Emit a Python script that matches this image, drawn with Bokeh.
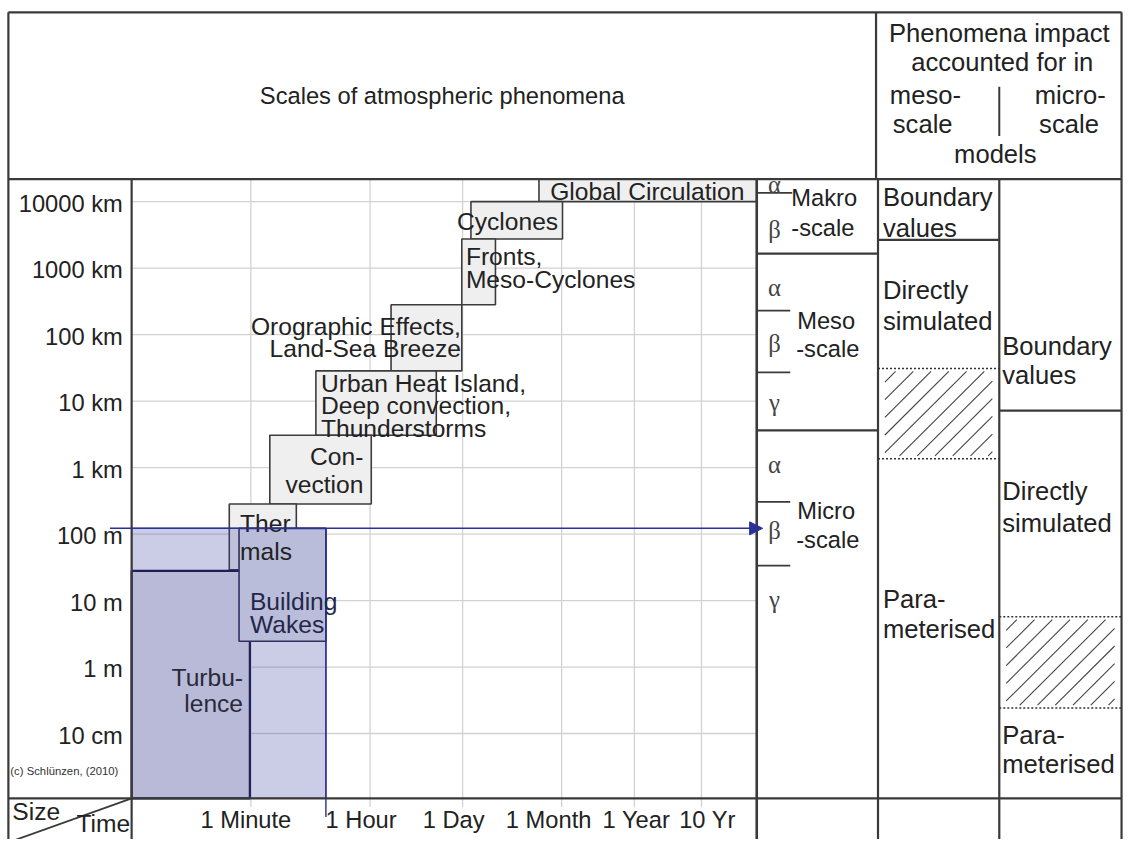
import numpy as np
from bokeh.plotting import figure
from bokeh.models import Range1d, ColumnDataSource, Arrow, NormalHead
from bokeh.core.properties import value
from bokeh.embed import file_html
from bokeh.resources import INLINE

# ------------------------------------------------------------------ data
size_ticks_m = [1e7, 1e6, 1e5, 1e4, 1e3, 1e2, 1e1, 1e0, 1e-1]
size_tick_labels = ["10000 km", "1000 km", "100 km", "10 km", "1 km",
                    "100 m", "10 m", "1 m", "10 cm"]
time_ticks_s = [60, 3600, 86400, 2.592e6, 3.156e7, 3.156e8]
time_tick_labels = ["1 Minute", "1 Hour", "1 Day", "1 Month", "1 Year", "10 Yr"]
time_label_dx = [-5, -9, -9, -13, 2, 6]

# phenomena (time span in s, length span in m)
phen_names = ["Global Circulation", "Cyclones", "Fronts, Meso-Cyclones",
              "Orographic Effects, Land-Sea Breeze",
              "Urban Heat Island, Deep convection, Thunderstorms",
              "Convection", "Thermals"]
phen_t0 = [1.19e6, 1.15e5, 8.4e4, 7.4e3, 5.6e2, 1.15e2, 28.6]
phen_t1 = [2.1e9, 2.67e6, 2.67e5, 8.4e4, 3.5e4, 3.75e3, 2.86e2]
phen_l0 = [1.0e7, 2.75e6, 2.82e5, 2.85e4, 3.07e3, 2.84e2, 29.0]
phen_l1 = [2.18e7, 1.0e7, 2.75e6, 2.82e5, 2.85e4, 3.07e3, 2.84e2]

micro_names = ["Turbulence", "Building Wakes"]
micro_t0 = [1.0, 40.0]
micro_t1 = [58.0, 790.0]
micro_l0 = [0.0106, 2.44]
micro_l1 = [28.0, 122.0]

# domain of the microscale model (highlighted)
domain_t = [1.0, 790.0]
domain_l = [0.0106, 122.0]

# ------------------------------------------------------------------ layout
PXD_X, PXD_Y = 68.0, 67.75          # reference pixels per decade
X_1S, Y_1E7 = 133.0, 205.0           # reference pixel of 1 s / 1e7 m
REF_W, REF_H = 1140, 855
W, H = 1124, 839
FS = W / REF_W                       # font scale


def gx(px):
    return 10 ** ((px - X_1S) / PXD_X)


def gy(py):
    return 10 ** (7 + (Y_1E7 - py) / PXD_Y)


p = figure(width=W, height=H, x_axis_type="log", y_axis_type="log",
           x_range=Range1d(gx(0), gx(REF_W)),
           y_range=Range1d(gy(REF_H), gy(0)),
           output_backend="svg", toolbar_location=None, min_border=0,
           x_axis_location=None, y_axis_location=None,
           outline_line_color=None, background_fill_color="white")
p.xgrid.visible = False
p.ygrid.visible = False

navy = "#2b2f98"
dark = "#3a3a3a"
txt = "#222222"
FONT = "Liberation Sans"


def fsz(s):
    return value(f"{s * FS:.1f}px")


t_main0, t_main1 = 1.0, gx(767)
l_main0, l_main1 = gy(813), gy(182)

# grid
p.segment(x0=time_ticks_s, y0=[gy(822)] * len(time_ticks_s),
          x1=time_ticks_s, y1=[l_main1] * len(time_ticks_s),
          line_color="#d2d2d2", line_width=1.3)
p.segment(x0=[t_main0] * len(size_ticks_m), y0=size_ticks_m,
          x1=[t_main1] * len(size_ticks_m), y1=size_ticks_m,
          line_color="#d2d2d2", line_width=1.3)

# phenomena boxes
p.quad(left=phen_t0, right=phen_t1, bottom=phen_l0, top=phen_l1,
       fill_color="#efefef", line_color="#3c3c3c", line_width=1.6)

# microscale model domain
p.quad(left=[domain_t[0]], right=[domain_t[1]], bottom=[domain_l[0]], top=[domain_l[1]],
       fill_color="#3c46a0", fill_alpha=0.27, line_color=navy, line_width=1.2)
p.quad(left=micro_t0, right=micro_t1, bottom=micro_l0, top=micro_l1,
       fill_color=["#b8bad7", "#babdd9"], line_color=["#1c1f5a", "#2e3160"],
       line_width=[2.2, 1.6])
p.segment(x0=[domain_t[1]], y0=[domain_l[1]], x1=[domain_t[1]], y1=[gy(832)],
          line_color=navy, line_width=1.4)
p.add_layout(Arrow(x_start=gx(111), y_start=domain_l[1], x_end=gx(773), y_end=domain_l[1],
                   line_color=navy, line_width=1.5,
                   end=NormalHead(size=13, fill_color=navy, line_color=navy)))


# table structure
def segs(lst, width=2.2, color=dark, dash="solid"):
    p.segment(x0=[gx(a) for a, _, _, _ in lst], y0=[gy(b) for _, b, _, _ in lst],
              x1=[gx(c) for _, _, c, _ in lst], y1=[gy(d) for _, _, _, d in lst],
              line_color=color, line_width=width, line_dash=dash)


segs([(8, 12, 1137, 12), (8, 12, 8, 870), (1137, 12, 1137, 870),
      (8, 182, 1137, 182), (888, 12, 888, 182), (133, 182, 133, 870),
      (8, 813, 1137, 813), (890, 182, 890, 870), (1013, 182, 1013, 870),
      (767, 258, 890, 258), (767, 438, 890, 438), (890, 244, 1013, 244),
      (1013, 418, 1137, 418)])
segs([(767, 182, 767, 870)], width=2.6)
segs([(767, 196, 803, 196), (767, 316, 801, 316), (767, 379, 801, 379),
      (767, 511, 801, 511), (767, 576, 801, 576)], width=1.8)
segs([(1013, 88, 1013, 138)], width=2.0)
segs([(8, 858, 133, 813)], width=1.8)
segs([(890, 375, 1013, 375), (890, 467, 1013, 467),
      (1013, 628, 1137, 628), (1013, 721, 1137, 721)], width=1.5, color="#333333", dash="2 2")


def hatch(x0, y0, x1, y1, step=18, inx=7, iny=3):
    xa, xb, ya, yb = x0 + inx, x1 - inx, y0 + iny, y1 - iny
    out = []
    for c in np.arange(xa + ya + step * 0.6, xb + yb, step):
        pa = max(xa, c - yb)
        pb = min(xb, c - ya)
        if pb - pa > 3:
            out.append((pa, c - pa, pb, c - pb))
    return out


segs(hatch(890, 375, 1013, 467) + hatch(1013, 628, 1137, 721), width=1.1, color="#444444")


# texts
def label_px(items, size, align, font=FONT, color=txt):
    src = ColumnDataSource(dict(x=[gx(a) for a, _, _ in items],
                                y=[gy(b) for _, b, _ in items],
                                text=[s for _, _, s in items]))
    p.text(x="x", y="y", text="text", source=src, text_font=value(font),
           text_font_size=fsz(size), text_align=align,
           text_baseline="middle", text_color=color)


# axis tick labels from data
ysrc = ColumnDataSource(dict(x=[gx(124)] * len(size_ticks_m), y=size_ticks_m, text=size_tick_labels))
p.text(x="x", y="y", text="text", source=ysrc, text_font=value(FONT),
       text_font_size=fsz(24), text_align="right", text_baseline="middle",
       text_color=txt, y_offset=2)
xsrc = ColumnDataSource(dict(x=time_ticks_s, y=[gy(835)] * len(time_ticks_s),
                             text=time_tick_labels, dx=time_label_dx))
p.text(x="x", y="y", text="text", source=xsrc, x_offset="dx", text_font=value(FONT),
       text_font_size=fsz(24), text_align="center", text_baseline="middle",
       text_color=txt)

label_px([(448, 97, "Scales of atmospheric phenomena")], 24, "center")
label_px([(1013, 33, "Phenomena impact"), (1016, 63, "accounted for in"),
          (1009, 156, "models")], 26, "center")
label_px([(902, 96, "meso-"), (905, 126, "scale")], 26, "left")
label_px([(1121, 96, "micro-"), (1114, 126, "scale")], 26, "right")

label_px([(656, 195, "Global Circulation")], 25, "center")
label_px([(463, 225, "Cyclones"), (472, 261, "Fronts,"), (472, 284, "Meso-Cyclones"),
          (325, 390, "Urban Heat Island,"), (325, 413, "Deep convection,"),
          (325, 436, "Thunderstorms"), (243, 533, "Ther"), (243, 562, "mals")], 25, "left")
label_px([(467, 332, "Orographic Effects,"), (467, 355, "Land-Sea Breeze"),
          (368, 465, "Con-"), (368, 493, "vection")], 25, "right")
label_px([(253, 612, "Building"), (253, 636, "Wakes")], 25, "left", color="#24264a")
label_px([(246, 690, "Turbu-"), (246, 716, "lence")], 25, "right", color="#2a2a3a")

label_px([(802, 201, "Makro"), (802, 232, "-scale"), (808, 327, "Meso"),
          (807, 355, "-scale"), (808, 520, "Micro"), (807, 550, "-scale")], 24, "left")
label_px([(785, 188, "α"), (785, 233, "β"), (785, 292, "α"), (785, 350, "β"),
          (785, 410, "γ"), (785, 473, "α"), (785, 540, "β"), (785, 610, "γ")],
         25, "center", font="Liberation Serif", color="#444444")

label_px([(895, 200, "Boundary"), (895, 232, "values"), (895, 295, "Directly"),
          (895, 327, "simulated"), (895, 610, "Para-"), (895, 640, "meterised"),
          (1016, 352, "Boundary"), (1016, 382, "values"), (1016, 500, "Directly"),
          (1016, 532, "simulated"), (1016, 748, "Para-"), (1016, 778, "meterised")],
         26, "left")

label_px([(12, 826, "Size"), (77, 839, "Time")], 25, "left")
label_px([(10, 785, "(c) Schlünzen, (2010)")], 11.5, "left", color="#333333")

open("out.html", "w").write(file_html(p, INLINE))
